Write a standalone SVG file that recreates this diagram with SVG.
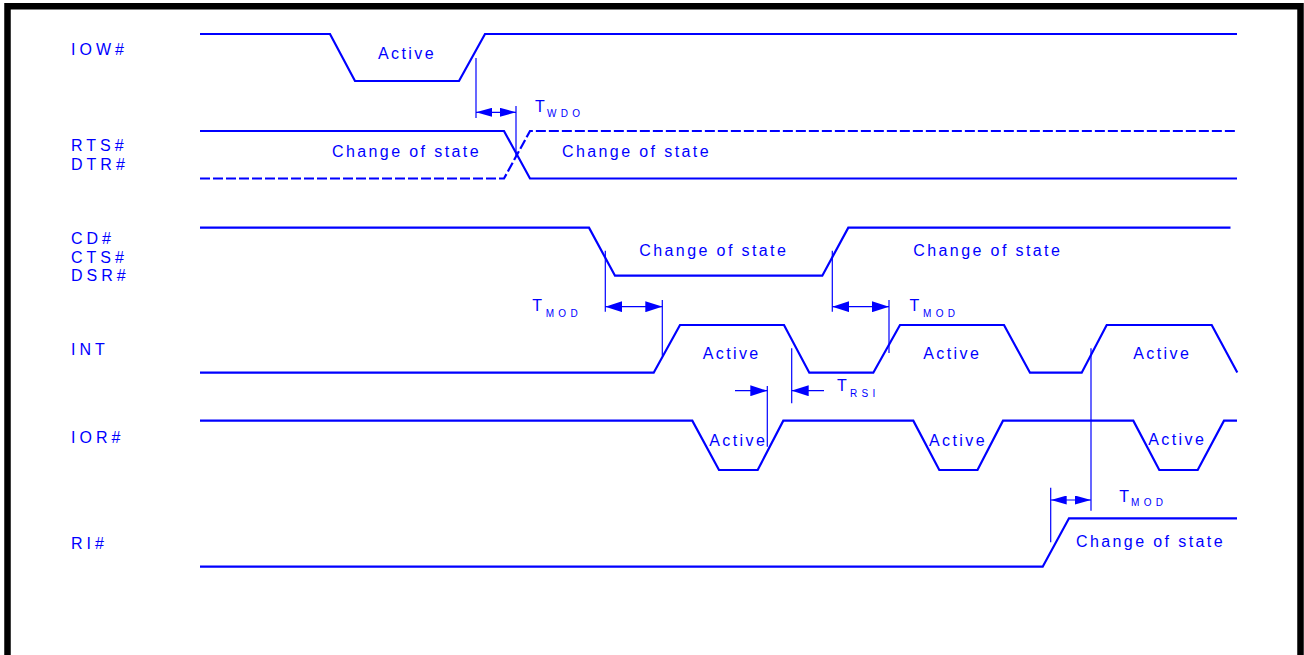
<svg xmlns="http://www.w3.org/2000/svg" width="1304" height="655" viewBox="0 0 1304 655">
<defs>
<style>
.sig{fill:none;stroke:#0000ff;stroke-width:2.2;stroke-linejoin:miter}
.dash{stroke-dasharray:10 3}
.thin{fill:none;stroke:#0000ff;stroke-width:1.2}
.name{font-family:"Liberation Sans",Arial,sans-serif;font-size:16px;letter-spacing:4px;fill:#0000ff}
.lbl{font-family:"Liberation Sans",Arial,sans-serif;font-size:16px;letter-spacing:2.4px;fill:#0000ff}
.t{font-family:"Liberation Sans",Arial,sans-serif;font-size:16px;fill:#0000ff}
.sub{font-family:"Liberation Sans",Arial,sans-serif;font-size:10px;letter-spacing:4.3px;fill:#0000ff}
</style>
<marker id="ah" markerUnits="userSpaceOnUse" markerWidth="17" markerHeight="11" refX="17" refY="5.5" orient="auto-start-reverse">
<path d="M0,0 L17,5.5 L0,11 z" fill="#0000ff"/>
</marker>
<marker id="ahs" markerUnits="userSpaceOnUse" markerWidth="16" markerHeight="9" refX="16" refY="4.5" orient="auto-start-reverse">
<path d="M0,0 L16,4.5 L0,9 z" fill="#0000ff"/>
</marker>
</defs>
<rect width="1304" height="655" fill="#ffffff"/>
<path d="M7.5,660 V6.2 H1300.5 V660" fill="none" stroke="#000000" stroke-width="6.5"/>

<g id="iow">
<text class="name" x="71" y="55">IOW#</text>
<path class="sig" d="M200,34 H330 L355,81 H459 L485,34 H1237"/>
<text class="lbl" x="378" y="59.3">Active</text>
</g>

<g id="rts-dtr">
<text class="name" x="71" y="151">RTS#</text>
<text class="name" x="71" y="170">DTR#</text>
<path class="sig" d="M200,131 H504 L530,178.5 H1237"/>
<path class="sig dash" d="M200,178.5 H504 L530,131 H1237"/>
<text class="lbl" x="332" y="157">Change of state</text>
<text class="lbl" x="562" y="157">Change of state</text>
</g>

<g id="cd-cts-dsr">
<text class="name" x="71" y="244">CD#</text>
<text class="name" x="71" y="262.5">CTS#</text>
<text class="name" x="71" y="281">DSR#</text>
<path class="sig" d="M200,227.7 H589 L615,275.7 H822.3 L848.3,227.7 H1230.5"/>
<text class="lbl" x="639.3" y="256">Change of state</text>
<text class="lbl" x="913.3" y="256">Change of state</text>
</g>

<g id="int">
<text class="name" x="71" y="355.3">INT</text>
<path class="sig" d="M200,372.7 H653.7 L680,325 H784 L809.3,372.7 H873.3 L900,325 H1004 L1030,372.7 H1081.7 L1106.7,325 H1211.7 L1237.3,372.5"/>
<text class="lbl" x="702.7" y="359.3">Active</text>
<text class="lbl" x="923.3" y="359.3">Active</text>
<text class="lbl" x="1133.3" y="359">Active</text>
</g>

<g id="ior">
<text class="name" x="71" y="443">IOR#</text>
<path class="sig" d="M200,420.7 H692.3 L719,470 H757.7 L783.3,420.7 H913.3 L939.3,470 H977.5 L1003,420.7 H1133.3 L1159.3,470 H1197.7 L1224,420.7 H1237"/>
<text class="lbl" x="709.3" y="446">Active</text>
<text class="lbl" x="929" y="446">Active</text>
<text class="lbl" x="1148.3" y="445">Active</text>
</g>

<g id="ri">
<text class="name" x="71" y="549">RI#</text>
<path class="sig" d="M200,566.7 H1042.7 L1069,518.3 H1237"/>
<text class="lbl" x="1076" y="547.3">Change of state</text>
</g>

<g id="connectors">
<!-- T_WDO -->
<line class="thin" x1="476" y1="58" x2="476" y2="118"/>
<line class="thin" x1="516" y1="106" x2="516" y2="157"/>
<line class="thin" x1="476" y1="112.3" x2="516" y2="112.3" marker-start="url(#ahs)" marker-end="url(#ahs)"/>
<!-- T_MOD 1 -->
<line class="thin" x1="605.3" y1="250.7" x2="605.3" y2="311.7"/>
<line class="thin" x1="662.3" y1="300" x2="662.3" y2="355.7"/>
<line class="thin" x1="605.3" y1="306.7" x2="662.3" y2="306.7" marker-start="url(#ah)" marker-end="url(#ah)"/>
<!-- T_MOD 2 -->
<line class="thin" x1="832.3" y1="250.7" x2="832.3" y2="311.7"/>
<line class="thin" x1="889" y1="300" x2="889" y2="353"/>
<line class="thin" x1="832.3" y1="306.7" x2="889" y2="306.7" marker-start="url(#ah)" marker-end="url(#ah)"/>
<!-- T_RSI -->
<line class="thin" x1="767.3" y1="386" x2="767.3" y2="446.7"/>
<line class="thin" x1="791.7" y1="348.3" x2="791.7" y2="403.3"/>
<line class="thin" x1="735" y1="390.7" x2="767.3" y2="390.7" marker-end="url(#ah)"/>
<line class="thin" x1="824" y1="390.7" x2="791.7" y2="390.7" marker-end="url(#ah)"/>
<!-- T_MOD 3 -->
<line class="thin" x1="1091" y1="348.3" x2="1091" y2="510.7"/>
<line class="thin" x1="1050.7" y1="487.7" x2="1050.7" y2="542.3"/>
<line class="thin" x1="1050.7" y1="500" x2="1091" y2="500" marker-start="url(#ahs)" marker-end="url(#ahs)"/>
</g>

<g id="timing-labels">
<text class="t" x="535" y="112.3">T</text><text class="sub" x="547" y="116.5">WDO</text>
<text class="t" x="532.3" y="310.7">T</text><text class="sub" x="545.7" y="317">MOD</text>
<text class="t" x="909.5" y="310.7">T</text><text class="sub" x="923" y="317">MOD</text>
<text class="t" x="837" y="390.7">T</text><text class="sub" x="850" y="397">RSI</text>
<text class="t" x="1119.3" y="501.7">T</text><text class="sub" x="1131" y="506">MOD</text>
</g>
</svg>
